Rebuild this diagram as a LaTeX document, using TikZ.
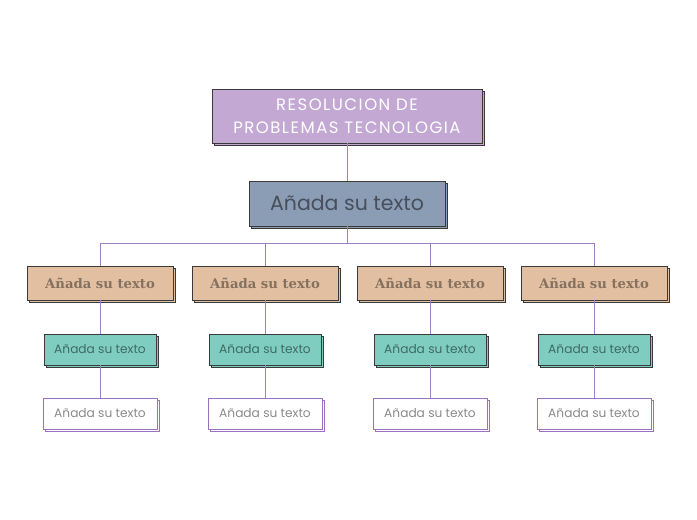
\documentclass[tikz,border=0pt]{standalone}
\usepackage{fontspec}
\setmainfont{Poppins}
\newfontfamily\titlefont[LetterSpace=9]{Poppins}
\newfontfamily\slabfont{DejaVu Serif}
\usetikzlibrary{shadows}
\definecolor{titlefill}{HTML}{C3A8D4}
\definecolor{bluefill}{HTML}{8B9DB5}
\definecolor{bluetext}{HTML}{474E5C}
\definecolor{brownfill}{HTML}{E3BFA1}
\definecolor{browntext}{HTML}{84715F}
\definecolor{tealfill}{HTML}{7ECDC0}
\definecolor{tealtext}{HTML}{3F6A64}
\definecolor{edgecol}{HTML}{A07FC4}
\definecolor{boxline}{HTML}{3A3A3A}
\definecolor{leafline}{HTML}{9B72C2}
\definecolor{leaftext}{HTML}{8A8A8A}
\begin{document}
\begin{tikzpicture}[x=1pt,y=-1pt,
  base/.style={rectangle,inner sep=0pt,align=center,line width=0.9pt,
    copy shadow={shadow xshift=2.5pt,shadow yshift=-2.5pt}},
  titlebox/.style={base,draw=boxline,fill=titlefill,text=white,minimum width=270pt,minimum height=54pt,font=\titlefont\fontsize{16.5}{22.5}\selectfont},
  bluebox/.style={base,draw=boxline,fill=bluefill,text=bluetext,minimum width=196pt,minimum height=45pt,font=\fontsize{20.5}{24}\selectfont},
  brownbox/.style={base,draw=boxline,fill=brownfill,text=browntext,minimum width=146pt,minimum height=34pt,font=\slabfont\bfseries\fontsize{13.2}{16}\selectfont},
  tealbox/.style={base,draw=boxline,fill=tealfill,text=tealtext,minimum width=112pt,minimum height=31pt,font=\fontsize{12.2}{14}\selectfont},
  leafbox/.style={base,draw=leafline,fill=white,text=leaftext,minimum width=114pt,minimum height=31pt,font=\fontsize{12.2}{14}\selectfont},
  link/.style={draw=edgecol,line width=0.8pt}]
\fill[white] (0,0) rectangle (697,520);
\useasboundingbox (0,0) rectangle (697,520);
\node[titlebox] (title) at (347,116) {RESOLUCION DE\\PROBLEMAS TECNOLOGIA};
\node[bluebox] (main) at (347,203.5) {Añada su texto};
\coordinate (bus) at (347,243);
\foreach \i/\x in {1/100,2/265,3/430,4/594}{
  \node[brownbox] (b\i) at (\x,283) {Añada su texto};
  \node[tealbox] (t\i) at (\x,349.5) {Añada su texto};
  \node[leafbox] (l\i) at (\x,413.5) {Añada su texto};
}
\draw[link] (title.south) -- (main.north);
\draw[link] (main.south) -- (bus);
\foreach \i in {1,2,3,4}{
  \draw[link] (bus) -| (b\i.north);
  \draw[link] (b\i.south) -- (b\i.south |- t\i.north);
  \draw[link] (t\i.south) -- (t\i.south |- l\i.north);
}
\end{tikzpicture}
\end{document}
